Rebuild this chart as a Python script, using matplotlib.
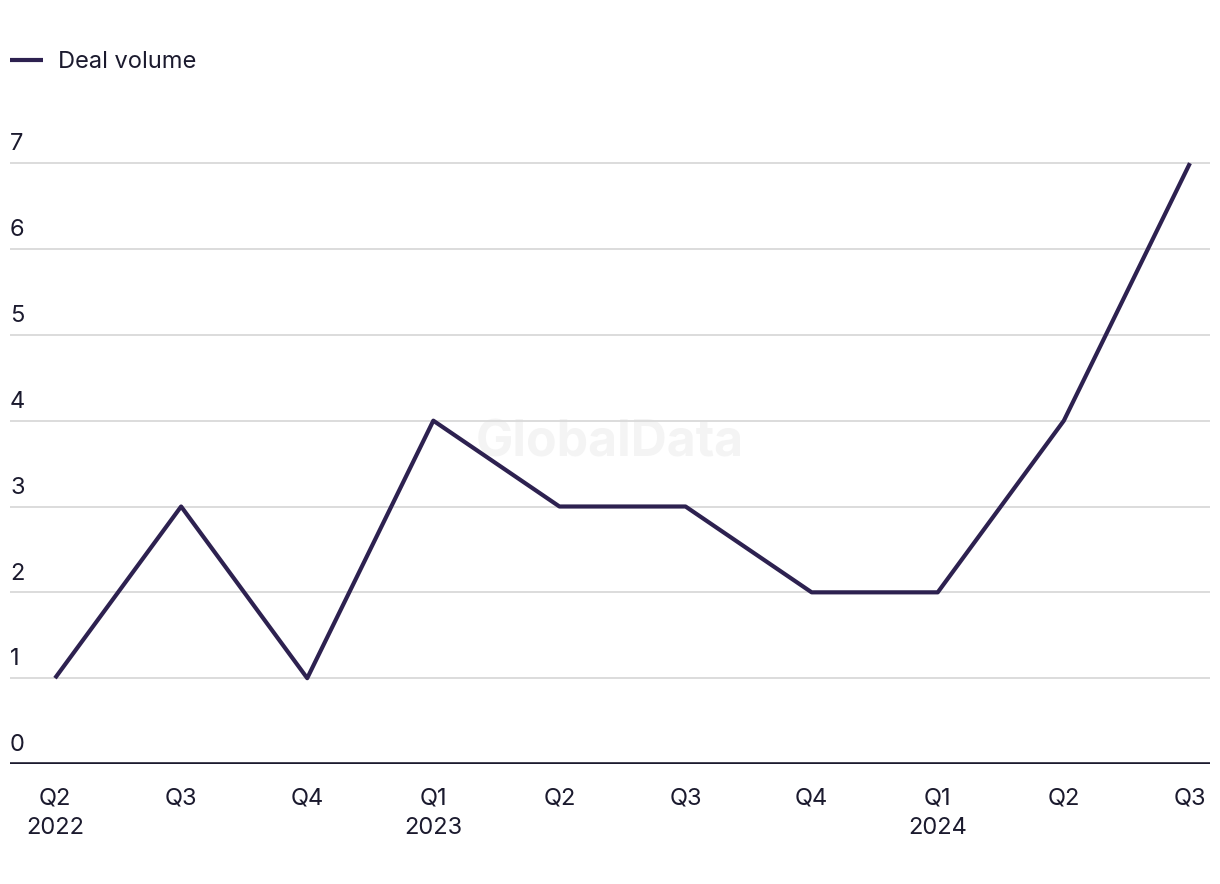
import matplotlib
matplotlib.use("Agg")
import matplotlib.pyplot as plt
import matplotlib.transforms as mtransforms

# Data
quarters = ["Q2", "Q3", "Q4", "Q1", "Q2", "Q3", "Q4", "Q1", "Q2", "Q3"]
years = ["2022", "", "", "2023", "", "", "", "2024", "", ""]
deal_volume = [1, 3, 1, 4, 3, 3, 2, 2, 4, 7]
y_ticks = [0, 1, 2, 3, 4, 5, 6, 7]

LINE = "#2d2150"
TEXT = "#1b1a2e"
GRID = "#d9d9d9"

plt.rcParams["font.family"] = ["Inter", "DejaVu Sans"]

fig = plt.figure(figsize=(12.2, 8.84), dpi=100)
ax = fig.add_axes([10 / 1220, 120 / 884, 1200 / 1220, (764 - 146) / 884])

x = list(range(len(deal_volume)))
ax.plot(x, deal_volume, color=LINE, linewidth=3, label="Deal volume",
        solid_capstyle="butt", zorder=3)

ax.set_xlim(-0.357, len(x) - 1 + 0.159)
ax.set_ylim(0, 7.2)

# gridlines
for v in y_ticks[1:]:
    ax.axhline(v, color=GRID, linewidth=1.3, zorder=1)
ax.axhline(0, color=TEXT, linewidth=2.6, zorder=2)

for s in ax.spines.values():
    s.set_visible(False)
ax.set_yticks([])
ax.set_xticks(x)
ax.set_xticklabels([q + ("\n" + y if y else "") for q, y in zip(quarters, years)],
                   fontsize=17, color=TEXT, va="top", linespacing=1.45)
ax.tick_params(axis="x", length=0, pad=17)

# y labels above gridlines at left
trans = mtransforms.blended_transform_factory(ax.transAxes, ax.transData)
for v in y_ticks:
    ax.text(0.0, v + 0.09, str(v), transform=trans, fontsize=17, color=TEXT,
            ha="left", va="bottom")

# watermark
ax.text(0.5, 0.52, "GlobalData", transform=ax.transAxes, fontsize=36,
        fontweight="bold", color="#f4f4f4", ha="center", va="center", zorder=0)

fig.legend(loc="center left", bbox_to_anchor=(10 / 1220, 1 - 62 / 884), frameon=False,
           fontsize=17, handlelength=1.4, handletextpad=0.65, labelcolor=TEXT,
           borderaxespad=0.0, borderpad=0.0)

fig.savefig("out.png", dpi=100, facecolor="white")
